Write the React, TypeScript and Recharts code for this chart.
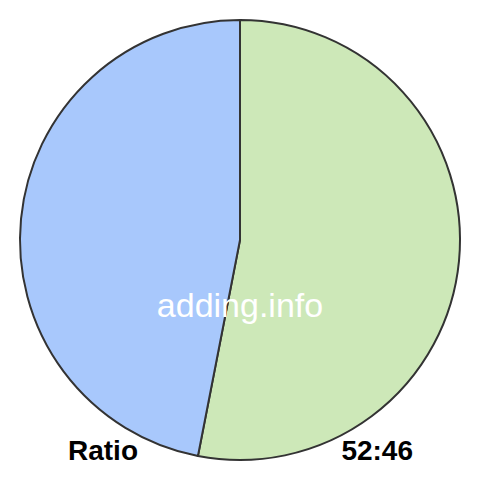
import { Cell, Pie, PieChart } from 'recharts';

const names = ['Left share', 'Right share'];
const values = [52, 46];
const colors = ['#cde8b8', '#a8c8fc'];
const caption = 'Ratio';
const ratioText = '52:46';
const watermark = 'adding.info';

const data = names.map((name, i) => ({ name, value: values[i] }));

export default function App() {
  return (
    <div style={{ position: 'absolute', left: 0, top: 0, width: 480, height: 480, background: '#fff' }}>
      <PieChart width={480} height={480} margin={{ top: 0, right: 0, bottom: 0, left: 0 }}>
        <Pie
          data={data}
          dataKey="value"
          cx={240}
          cy={240}
          outerRadius={220}
          startAngle={90}
          endAngle={-270}
          stroke="#333333"
          strokeWidth={2}
          isAnimationActive={false}
        >
          {data.map((d, i) => (
            <Cell key={d.name} fill={colors[i]} />
          ))}
        </Pie>
      </PieChart>
      <svg width={480} height={480} style={{ position: 'absolute', left: 0, top: 0, pointerEvents: 'none' }}>
        <text x={240} y={317} textAnchor="middle" fill="#ffffff" fontFamily="Liberation Sans, Arial, sans-serif" fontSize={34}>
          {watermark}
        </text>
        <text x={68} y={460} fill="#000000" fontFamily="Liberation Sans, Arial, sans-serif" fontSize={28} fontWeight="bold">
          {caption}
        </text>
        <text x={413} y={460} textAnchor="end" fill="#000000" fontFamily="Liberation Sans, Arial, sans-serif" fontSize={28} fontWeight="bold">
          {ratioText}
        </text>
      </svg>
    </div>
  );
}
